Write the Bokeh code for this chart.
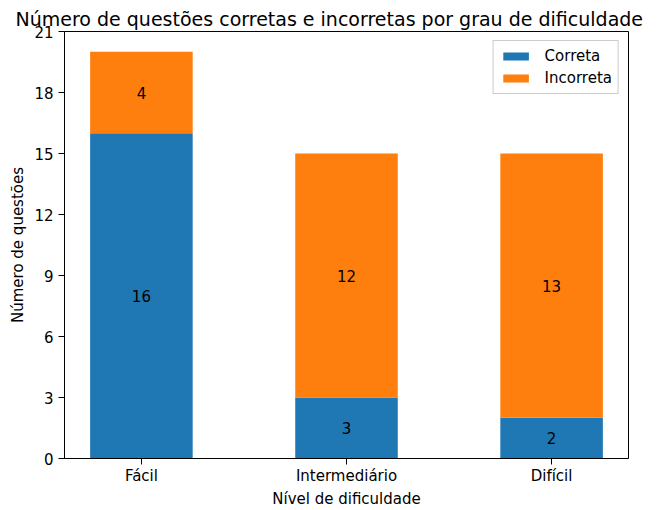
from bokeh.plotting import figure
from bokeh.models import ColumnDataSource, FixedTicker, Range1d, Legend, LegendItem
from bokeh.core.properties import value
from bokeh.embed import file_html
from bokeh.resources import INLINE

categories = ["Fácil", "Intermediário", "Difícil"]
corretas = [16, 3, 2]
incorretas = [4, 12, 13]
y_ticks = [0, 3, 6, 9, 12, 15, 18, 21]

FONT = "DejaVu Sans"
BLUE = "#1f77b4"
ORANGE = "#ff7f0e"

xs = list(range(len(categories)))
tops = [c + i for c, i in zip(corretas, incorretas)]
src = ColumnDataSource(dict(
    x=xs, cor=corretas, inc=incorretas, top=tops,
    cor_mid=[c / 2 for c in corretas],
    inc_mid=[c + i / 2 for c, i in zip(corretas, incorretas)],
    cor_txt=[str(c) for c in corretas],
    inc_txt=[str(i) for i in incorretas],
))

p = figure(width=649, height=510, output_backend="svg", toolbar_location=None,
           x_range=Range1d(-0.375, 2.375), y_range=Range1d(0, 21),
           min_border_left=64, min_border_right=21, min_border_top=31, min_border_bottom=52)

p.title.text = "Número de questões corretas e incorretas por grau de dificuldade"
p.title.text_font = FONT
p.title.text_font_size = "19px"
p.title.text_font_style = "normal"
p.title.align = "left"
p.title.offset = -49
p.title.standoff = 4
p.title.text_color = "black"

r1 = p.vbar(x="x", bottom=0, top="cor", width=0.5, source=src, fill_color=BLUE, line_color=None)
r2 = p.vbar(x="x", bottom="cor", top="top", width=0.5, source=src, fill_color=ORANGE, line_color=None)

for ycol, tcol in (("cor_mid", "cor_txt"), ("inc_mid", "inc_txt")):
    p.text(x="x", y=ycol, text=tcol, source=src, text_align="center", text_baseline="middle",
           text_font=value(FONT), text_font_size="15px", text_color="black")

p.xgrid.visible = False
p.ygrid.visible = False
p.outline_line_color = "black"
p.outline_line_alpha = 1
p.outline_line_width = 1

p.xaxis.ticker = FixedTicker(ticks=xs)
p.xaxis.major_label_overrides = {i: c for i, c in enumerate(categories)}
p.yaxis.ticker = FixedTicker(ticks=y_ticks)
p.xaxis.axis_label = "Nível de dificuldade"
p.yaxis.axis_label = "Número de questões"
for ax in (p.xaxis, p.yaxis):
    ax.axis_line_color = "black"
    ax.major_tick_line_color = "black"
    ax.minor_tick_line_color = None
    ax.major_tick_in = 0
    ax.major_tick_out = 6
    ax.major_label_text_font = FONT
    ax.major_label_text_font_size = "15px"
    ax.major_label_text_color = "black"
    ax.axis_label_text_font = FONT
    ax.axis_label_text_font_size = "15px"
    ax.axis_label_text_font_style = "normal"
    ax.axis_label_text_color = "black"
p.xaxis.major_label_standoff = 2
p.yaxis.major_label_standoff = 5
p.xaxis.axis_label_standoff = 2
p.yaxis.axis_label_standoff = 4

legend = Legend(items=[LegendItem(label="Correta", renderers=[r1]),
                       LegendItem(label="Incorreta", renderers=[r2])],
                location="top_right", margin=9, padding=6, spacing=4,
                glyph_width=32, glyph_height=10, label_height=18,
                label_text_font=FONT, label_text_font_size="15px", label_text_color="black",
                border_line_color="#cccccc", border_line_alpha=1, background_fill_alpha=0.8,
                label_standoff=13)
p.add_layout(legend)

open("out.html", "w").write(file_html(p, INLINE))
